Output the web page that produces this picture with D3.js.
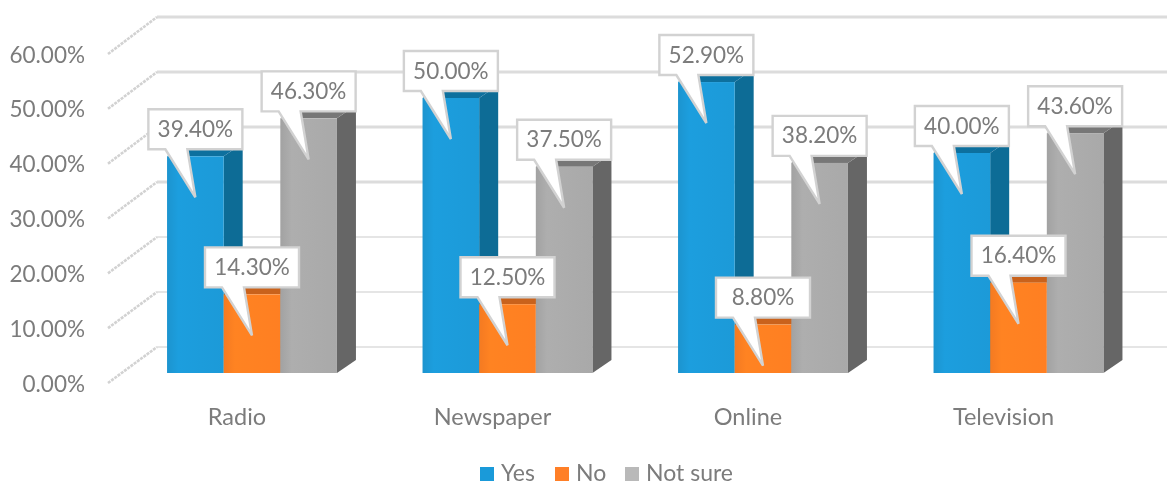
<!DOCTYPE html>
<html><head><meta charset="utf-8">
<script src="https://cdn.jsdelivr.net/npm/d3@7/dist/d3.min.js"></script>
<style>html,body{margin:0;padding:0;background:#fff;overflow:hidden}text{font-family:Lato,sans-serif;fill:#7b7b7b}</style>
</head><body><svg id="c" width="1167" height="486"></svg>
<script>
const categories = ["Radio","Newspaper","Online","Television"];
const seriesNames = ["Yes","No","Not sure"];
const yes = [39.4,50.0,52.9,40.0];
const no = [14.3,12.5,8.8,16.4];
const notSure = [46.3,37.5,38.2,43.6];
const tickValues = [0,10,20,30,40,50,60];
const frontColors = ["#1b9ad8","#ff7f21","#a9a9a9"];
const topColors = ["#0f6f9e","#c9621a","#777777"];
const sideColors = ["#0b6c96","#b85a18","#666666"];
const legendColors = ["#1a9ad9","#ff7f27","#b9b9b9"];
const seriesValues = [yes,no,notSure];
const fontSize = 22.5, catFontSize = 23.5, legendFontSize = 23;

const svg = d3.select("#c");
const defs = svg.append("defs");
defs.append("filter").attr("id","soft").append("feGaussianBlur").attr("stdDeviation",0.7);
defs.append("filter").attr("id","softText").append("feGaussianBlur").attr("stdDeviation",0.3);
frontColors.forEach((c,i)=>{
  const g=defs.append("linearGradient").attr("id","fr"+i).attr("x1",0).attr("x2",1).attr("y1",0).attr("y2",0);
  g.append("stop").attr("offset","0").attr("stop-color",d3.color(c).darker(0.12));
  g.append("stop").attr("offset","0.2").attr("stop-color",d3.color(c).brighter(0.08));
  g.append("stop").attr("offset","1").attr("stop-color",c);
});

const fy = d3.scaleLinear().domain([0,60]).range([373,43]);   // front plane of bars
const by = d3.scaleLinear().domain([0,60]).range([347,17]);   // back wall
const wy = d3.scaleLinear().domain([0,60]).range([383,54]);   // front end of the side wall
const depthX = 19, depthY = 13;
const wallFront = 108, wallBack = 157;

const x0 = d3.scaleBand().domain(categories).range([124.25,1146.25]).paddingInner(0.335).paddingOuter(0.1675);
const x1 = d3.scaleBand().domain(seriesNames).range([0,x0.bandwidth()]);

const plot = svg.append("g").attr("filter","url(#soft)");
tickValues.forEach(t=>{
  plot.append("line").attr("x1",wallBack).attr("x2",1167).attr("y1",by(t)).attr("y2",by(t))
    .attr("stroke","#dcdcdc").attr("stroke-width",t>=30?2.8:1.7);
  plot.append("line").attr("x1",wallFront).attr("x2",wallBack).attr("y1",wy(t)).attr("y2",by(t))
    .attr("stroke","#d2d2d2").attr("stroke-width",2.6).attr("stroke-dasharray","3 1");
});
const rows = categories.map((c,ci)=>seriesNames.map((s,si)=>({c,s,si,v:seriesValues[si][ci]})));
const groups = plot.selectAll(".grp").data(rows).join("g").attr("transform",d=>`translate(${x0(d[0].c)},0)`);
groups.each(function(row){
  const g=d3.select(this);
  row.forEach(d=>{
    const l=x1(d.s), r=l+x1.bandwidth(), t=fy(d.v), b=fy(0);
    g.append("path").attr("fill",sideColors[d.si])
      .attr("d",`M${r},${b}L${r+depthX},${b-depthY}L${r+depthX},${t-depthY}L${r},${t}Z`);
    g.append("path").attr("fill",topColors[d.si])
      .attr("d",`M${l},${t}L${l+depthX},${t-depthY}L${r+depthX},${t-depthY}L${r},${t}Z`);
    g.append("rect").attr("x",l).attr("y",t).attr("width",x1.bandwidth()).attr("height",b-t)
      .attr("fill",`url(#fr${d.si})`);
  });
});
const callouts = svg.append("g");
rows.flat().forEach(d=>{
  const cx = x0(d.c)+x1(d.s)+x1.bandwidth()/2, tipY = fy(d.v)+41;
  const top = tipY-88, bot = tipY-48, L = cx-47, R = cx+47;
  callouts.append("path")
    .attr("d",`M${L},${top}H${R}V${bot}H${cx-8}L${cx},${tipY}L${cx-30},${bot}H${L}Z`)
    .attr("fill","#fff").attr("stroke","#d2d2d2").attr("stroke-width",2.4).attr("stroke-linejoin","miter");
  callouts.append("text").attr("x",cx).attr("y",top+27.5).attr("text-anchor","middle")
    .attr("font-size",fontSize).attr("filter","url(#softText)").text(d.v.toFixed(2)+"%");
});
const yAxis = d3.axisLeft(wy).tickValues(tickValues).tickSize(0).tickFormat(t=>t.toFixed(2)+"%");
const ya = svg.append("g").attr("transform","translate(92,0)").call(yAxis);
ya.select(".domain").remove();
ya.selectAll("text").attr("font-size",fontSize).attr("x",-7).attr("dy","0.36em").attr("filter","url(#softText)").style("font-family","Lato,sans-serif").style("fill","#7b7b7b");
const xl = d3.axisBottom(x0).tickSize(0);
const xa = svg.append("g").attr("transform","translate(-15,417)").call(xl);
xa.select(".domain").remove();
xa.selectAll("text").attr("font-size",catFontSize).attr("y",0).attr("dy","0.35em").attr("filter","url(#softText)").style("font-family","Lato,sans-serif").style("fill","#7b7b7b");
const legendX = [480,555,625];
seriesNames.forEach((s,i)=>{
  svg.append("rect").attr("x",legendX[i]).attr("y",467).attr("width",14).attr("height",14).attr("fill",legendColors[i]);
  svg.append("text").attr("x",legendX[i]+21).attr("y",480.5).attr("font-size",legendFontSize).attr("filter","url(#softText)").text(s);
});
</script></body></html>
